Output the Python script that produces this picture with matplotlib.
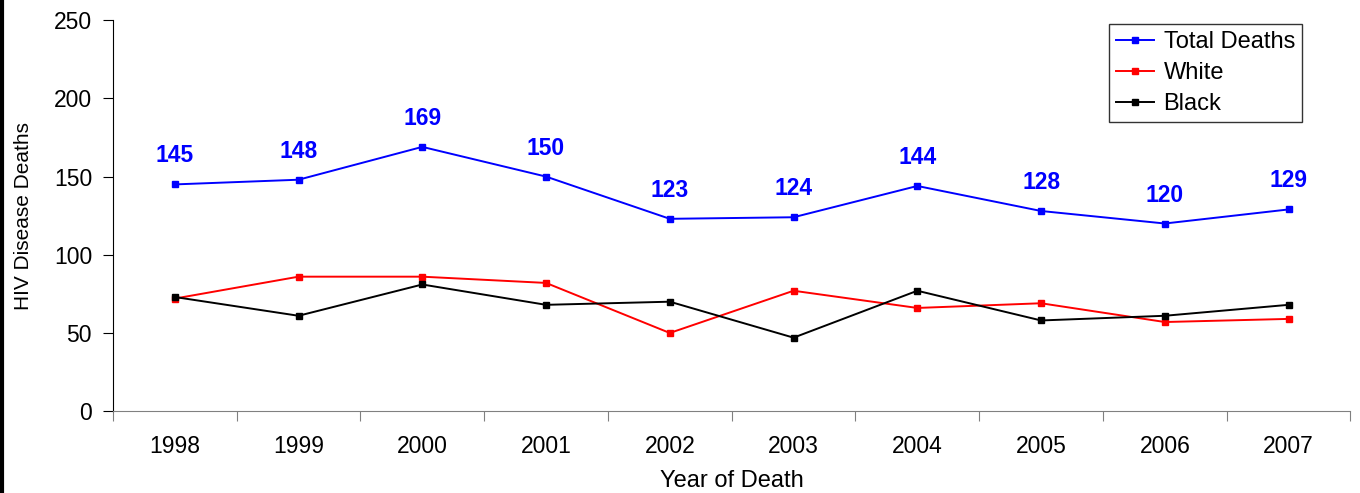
import matplotlib

matplotlib.use("Agg")
import matplotlib.pyplot as plt
from matplotlib.lines import Line2D

plt.rcParams["font.family"] = ["Liberation Sans", "DejaVu Sans"]

years = ["1998", "1999", "2000", "2001", "2002", "2003", "2004", "2005", "2006", "2007"]
total_deaths = [145, 148, 169, 150, 123, 124, 144, 128, 120, 129]
white = [72, 86, 86, 82, 50, 77, 66, 69, 57, 59]
black = [73, 61, 81, 68, 70, 47, 77, 58, 61, 68]

fig = plt.figure(figsize=(13.6, 4.93), dpi=100)
ax = fig.add_axes([0.083, 0.166, 0.910, 0.793])

x = list(range(len(years)))
ax.plot(x, total_deaths, color="#0000ff", marker="s", markersize=5, lw=1.4, label="Total Deaths")
ax.plot(x, white, color="#ff0000", marker="s", markersize=5, lw=1.4, label="White")
ax.plot(x, black, color="#000000", marker="s", markersize=5, lw=1.4, label="Black")

for xi, v in zip(x, total_deaths):
    ax.annotate(str(v), (xi, v), xytext=(0, 20.5), textcoords="offset points",
                ha="center", va="center", color="#0000ff", fontsize=16.5, fontweight="bold")

ax.set_xlim(-0.5, len(years) - 0.5)
ax.set_ylim(0, 250)
ax.set_yticks(range(0, 251, 50))
ax.set_xticks([i - 0.5 for i in range(len(years) + 1)])
ax.set_xticklabels([])
ax.set_xticks(x, minor=True)
ax.set_xticklabels(years, minor=True)
ax.tick_params(axis="x", which="minor", length=0, pad=17, labelsize=16.5)
ax.tick_params(axis="x", which="major", length=7, direction="out", color="#808080")
ax.tick_params(axis="y", length=7, direction="out", labelsize=16.5, pad=8)

ax.spines["top"].set_visible(False)
ax.spines["right"].set_visible(False)
ax.spines["bottom"].set_color("#808080")
ax.spines["left"].set_color("black")

ax.set_xlabel("Year of Death", fontsize=17, labelpad=9)
ax.set_ylabel("HIV Disease Deaths", fontsize=15, labelpad=15)

leg = ax.legend(loc="upper right", bbox_to_anchor=(1302 / 1360, 1 - 24 / 493),
                bbox_transform=fig.transFigure, borderaxespad=0, fontsize=17, frameon=True,
                fancybox=False, edgecolor="black", handlelength=1.6, borderpad=0.3,
                labelspacing=0.38, handletextpad=0.4)
leg.get_frame().set_linewidth(1.0)

fig.add_artist(Line2D([0.0015, 0.0015], [0, 1], transform=fig.transFigure, color="black", lw=3))

fig.savefig("out.png", dpi=100)
